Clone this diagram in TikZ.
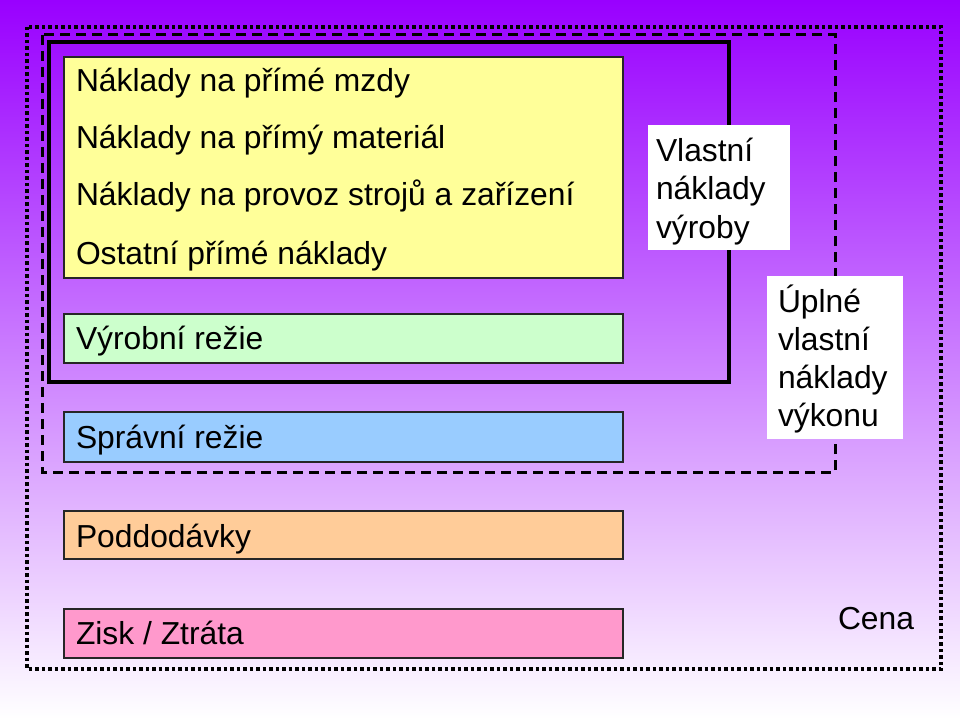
\documentclass[tikz,border=0pt]{standalone}
\usepackage{fontspec}
\setmainfont{Liberation Sans}
\definecolor{bgtop}{RGB}{153,0,255}
\definecolor{cyellow}{RGB}{255,255,153}
\definecolor{cgreen}{RGB}{204,255,204}
\definecolor{cblue}{RGB}{153,204,255}
\definecolor{corange}{RGB}{255,204,153}
\definecolor{cpink}{RGB}{255,153,204}
\begin{document}
\begin{tikzpicture}[x=1pt,y=-1pt,
  bar/.style={draw=black!85, line width=1.3pt, inner sep=0pt, outer sep=0pt, anchor=north west, minimum width=559pt},
  whitebox/.style={fill=white, draw=none, inner sep=0pt, outer sep=0pt, anchor=north west},
  lbl/.style={anchor=base west, inner sep=0pt, outer sep=0pt, font=\fontsize{31.8}{38}\selectfont},
  dotframe/.style={draw=black, line width=3.5pt, dash pattern=on 3.5pt off 3pt},
  dashframe/.style={draw=black, line width=3pt, dash pattern=on 10pt off 6pt},
  solidframe/.style={draw=black, line width=3.5pt},
]
\shade[top color=bgtop, bottom color=white] (0,0) rectangle (960,719);
\useasboundingbox (0,0) rectangle (960,719);

% frames
\draw[dotframe] (27,27) rectangle (941,669);
\draw[dashframe] (42,35) rectangle (835,472);
\draw[solidframe] (49,42) rectangle (729,382);

% bars
\node[bar, fill=cyellow, minimum height=221pt] (direct) at (64,57) {};
\node[bar, fill=cgreen, minimum height=49pt] (vyrobni) at (64,314) {};
\node[bar, fill=cblue, minimum height=50pt] (spravni) at (64,412) {};
\node[bar, fill=corange, minimum height=48pt] (poddod) at (64,511) {};
\node[bar, fill=cpink, minimum height=49pt] (zisk) at (64,609) {};

\node[lbl] (t1) at (76,92) {Náklady na přímé mzdy};
\node[lbl] (t2) at (76,149) {Náklady na přímý materiál};
\node[lbl] (t3) at (76,206) {Náklady na provoz strojů a zařízení};
\node[lbl] (t4) at (76,264) {Ostatní přímé náklady};
\node[lbl] (t5) at (76,349) {Výrobní režie};
\node[lbl] (t6) at (76,448) {Správní režie};
\node[lbl] (t7) at (76,547) {Poddodávky};
\node[lbl] (t8) at (76,644) {Zisk / Ztráta};

% white label boxes
\node[whitebox, minimum width=142pt, minimum height=125pt] (vnv) at (648,125) {};
\node[lbl] (v1) at (656,162) {Vlastní};
\node[lbl] (v2) at (656,200) {náklady};
\node[lbl] (v3) at (656,238) {výroby};

\node[whitebox, minimum width=136pt, minimum height=163pt] (unv) at (767,276) {};
\node[lbl] (u1) at (778,312) {Úplné};
\node[lbl] (u2) at (778,350) {vlastní};
\node[lbl] (u3) at (778,388) {náklady};
\node[lbl] (u4) at (778,426) {výkonu};

\node[lbl] (cena) at (838,629) {Cena};
\end{tikzpicture}
\end{document}
